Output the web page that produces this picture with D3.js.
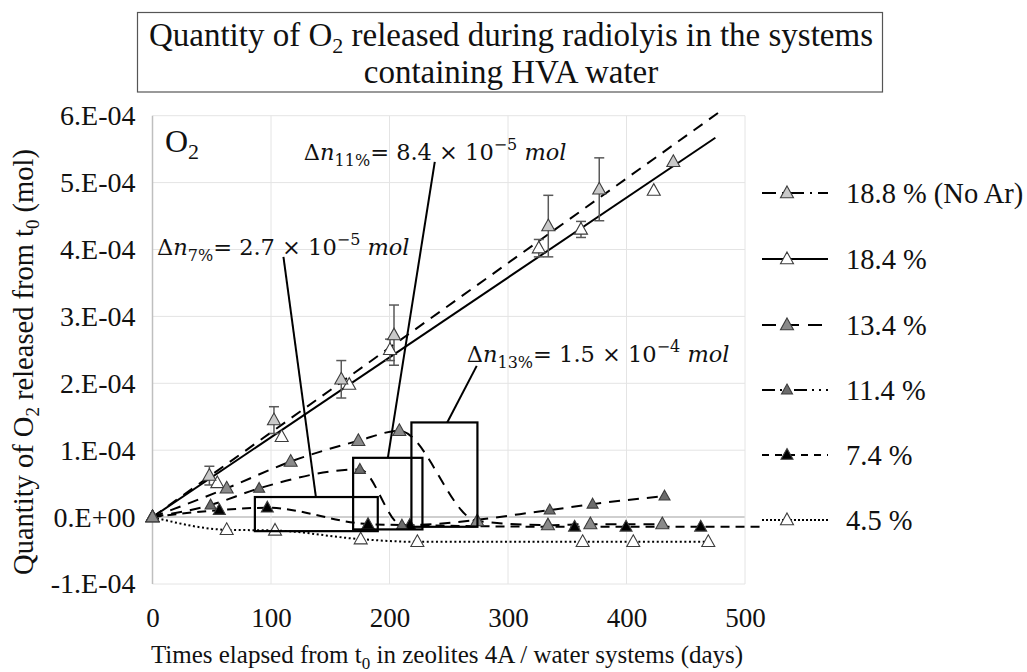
<!DOCTYPE html>
<html>
<head>
<meta charset="utf-8">
<script src="https://cdn.jsdelivr.net/npm/d3@7"></script>
<style>
  body { margin: 0; background: #fff; }
  svg { display: block; }
  text { font-family: "Liberation Serif", "Times New Roman", serif; fill: #111; }
  text.math { font-family: "DejaVu Serif", serif; }
</style>
</head>
<body>
<svg id="chart"></svg>
<script>
// axis ticks
const xTicks = [0, 100, 200, 300, 400, 500];
const yTicks = [-1e-4, 0, 1e-4, 2e-4, 3e-4, 4e-4, 5e-4, 6e-4];
const yTickLabels = ["-1.E-04", "0.E+00", "1.E-04", "2.E-04", "3.E-04", "4.E-04", "5.E-04", "6.E-04"];

// 18.8 % (No Ar)
const days188 = [0, 48, 102.5, 159.3, 203.8, 334, 377, 439.5];
const o2_188 = [0, 0.62e-4, 1.45e-4, 2.06e-4, 2.72e-4, 4.35e-4, 4.9e-4, 5.31e-4];
const err188 = [0, 0.14e-4, 0.2e-4, 0.28e-4, 0.45e-4, 0.46e-4, 0.47e-4, 0];
const trend188 = [[0, 0], [478, 6.05e-4]];

// 18.4 %
const days184 = [0, 54.7, 109, 166, 200.4, 326, 361.6, 423];
const o2_184 = [0, 0.51e-4, 1.2e-4, 1.98e-4, 2.5e-4, 4.02e-4, 4.3e-4, 4.88e-4];
const err184 = [0, 0, 0, 0, 0.16e-4, 0.13e-4, 0.12e-4, 0];
const trend184 = [[0, 0], [475, 5.67e-4]];

// 13.4 %
const days134 = [0, 62.6, 116.6, 173.7, 208.3, 274, 333.7, 369.5, 430.2];
const o2_134 = [0, 0.43e-4, 0.83e-4, 1.14e-4, 1.29e-4, -0.06e-4, -0.12e-4, -0.105e-4, -0.105e-4];

// 11.4 %
const days114 = [0, 49, 90, 175, 210.5, 335.2, 371.4, 432.1];
const o2_114 = [0, 0.18e-4, 0.43e-4, 0.713e-4, -0.12e-4, 0.105e-4, 0.194e-4, 0.314e-4];

// 7.4 % (last point has no marker, the line runs on under the legend)
const days74 = [0, 56.4, 96.9, 181.9, 217.1, 356.2, 399.6, 462.6, 517];
const o2_74 = [0, 0.105e-4, 0.14e-4, -0.105e-4, -0.12e-4, -0.145e-4, -0.145e-4, -0.145e-4, -0.145e-4];

// 4.5 %
const days45 = [0, 62.6, 103.4, 175.7, 223.5, 363, 405.7, 469];
const o2_45 = [0, -0.19e-4, -0.2e-4, -0.33e-4, -0.37e-4, -0.37e-4, -0.37e-4, -0.37e-4];

// callouts: box [x0, x1, yTop, yBottom], leader line, text anchor (all in data units)
const callouts = [
  { sub: "7%", val: "2.7", exp: "−5", box: [86.4, 190.1, 0.30e-4, -0.21e-4], leader: [[110.5, 3.89e-4], [137.9, 0.30e-4]], at: [3.8, 3.92e-4] },
  { sub: "11%", val: "8.4", exp: "−5", box: [169.3, 227.8, 0.886e-4, -0.184e-4], leader: [[238.2, 5.31e-4], [198.6, 0.886e-4]], at: [127.7, 5.34e-4] },
  { sub: "13%", val: "1.5", exp: "−4", box: [218.5, 274.2, 1.415e-4, -0.145e-4], leader: [[273.6, 2.26e-4], [248.7, 1.415e-4]], at: [265.2, 2.32e-4] }
];

const W = 1027, H = 672;
const svg = d3.select('#chart').attr('width', W).attr('height', H);

const x = d3.scaleLinear().domain([0, 500]).range([152.5, 745]);
const y = d3.scaleLinear().domain([-1e-4, 6e-4]).range([584, 115.7]);

// title box
svg.append('rect')
  .attr('x', 137.5).attr('y', 12.5).attr('width', 745).attr('height', 79.5)
  .attr('fill', 'none').attr('stroke', '#555').attr('stroke-width', 1.2);

const t1 = svg.append('text').attr('x', 511).attr('y', 46)
  .attr('text-anchor', 'middle').style('font-size', '33px');
t1.append('tspan').text('Quantity of O');
t1.append('tspan').attr('dy', 7).style('font-size', '22px').text('2');
t1.append('tspan').attr('dy', -7).text(' released during radiolyis in the systems');
svg.append('text').attr('x', 511).attr('y', 83)
  .attr('text-anchor', 'middle').style('font-size', '33px')
  .text('containing HVA water');

// gridlines
svg.append('g').selectAll('line').data(yTicks).enter().append('line')
  .attr('x1', x(0)).attr('x2', x(500))
  .attr('y1', d => y(d)).attr('y2', d => y(d))
  .attr('stroke', d => d === 0 ? '#bfbfbf' : '#e4e4e4').attr('stroke-width', d => d === 0 ? 1.5 : 1);
svg.append('g').selectAll('line').data(xTicks.slice(1)).enter().append('line')
  .attr('x1', d => x(d)).attr('x2', d => x(d))
  .attr('y1', y(-1e-4)).attr('y2', y(6e-4))
  .attr('stroke', '#e4e4e4');
svg.append('line')
  .attr('x1', x(0)).attr('x2', x(0)).attr('y1', y(-1e-4)).attr('y2', y(6e-4))
  .attr('stroke', '#bfbfbf').attr('stroke-width', 1.5);

// axes (labels only)
const yAxis = d3.axisLeft(y).tickValues(yTicks).tickSize(0).tickPadding(17)
  .tickFormat((d, i) => yTickLabels[i]);
const gy = svg.append('g').attr('transform', `translate(${x(0)},0)`).call(yAxis);
gy.select('.domain').remove();
gy.selectAll('text').style('font-family', '"Liberation Serif", serif').style('font-size', '28px').style('fill', '#111');

const xAxis = d3.axisBottom(x).tickValues(xTicks).tickSize(0).tickPadding(24);
const gx = svg.append('g').attr('transform', `translate(0,${y(-1e-4)})`).call(xAxis);
gx.select('.domain').remove();
gx.selectAll('text').style('font-family', '"Liberation Serif", serif').style('font-size', '27px').style('fill', '#111');

// axis titles
const xt = svg.append('text').attr('x', 447).attr('y', 663)
  .attr('text-anchor', 'middle').style('font-size', '25px');
xt.append('tspan').text('Times elapsed from t');
xt.append('tspan').attr('dy', 6).style('font-size', '17px').text('0');
xt.append('tspan').attr('dy', -6).text(' in zeolites 4A / water systems (days)');

const yt = svg.append('text').attr('transform', 'translate(33,362) rotate(-90)')
  .attr('text-anchor', 'middle').style('font-size', '28.5px');
yt.append('tspan').text('Quantity of O');
yt.append('tspan').attr('dy', 6).style('font-size', '19px').text('2');
yt.append('tspan').attr('dy', -6).text(' released from t');
yt.append('tspan').attr('dy', 6).style('font-size', '19px').text('0');
yt.append('tspan').attr('dy', -6).text(' (mol)');

// O2 label in plot
const o2 = svg.append('text').attr('x', 165).attr('y', 152).style('font-size', '32px');
o2.append('tspan').text('O');
o2.append('tspan').attr('dy', 7).style('font-size', '22px').text('2');

// series definitions
const series = [
  { name: '18.8 % (No Ar)', days: days188, vals: o2_188, err: err188, fill: '#c9c9c9', size: 13, line: null, legendDash: '14,6,2,6' },
  { name: '18.4 %', days: days184, vals: o2_184, err: err184, fill: '#ffffff', size: 13, line: null, legendDash: null },
  { name: '13.4 %', days: days134, vals: o2_134, fill: '#8a8a8a', size: 13, line: '11,8', legendDash: '14,9' },
  { name: '11.4 %', days: days114, vals: o2_114, fill: '#6c6c6c', size: 11, line: '11,8', legendDash: '13,5,2,5,2,5' },
  { name: '7.4 %', days: days74, vals: o2_74, fill: '#000000', size: 12, line: '9,6', legendDash: '7,6' },
  { name: '4.5 %', days: days45, vals: o2_45, fill: '#ffffff', size: 13, line: '2,2.6', legendDash: '2,2' }
];

const tri = (cx, cy, s) => {
  const h = s * 0.9;
  return `M${cx},${cy - h * 0.6}L${cx + s / 2},${cy + h * 0.4}L${cx - s / 2},${cy + h * 0.4}Z`;
};

// trendlines
const lineGen = d3.line().x(d => x(d[0])).y(d => y(d[1]));
svg.append('path').attr('d', lineGen(trend188)).attr('fill', 'none')
  .attr('stroke', '#000').attr('stroke-width', 2).attr('stroke-dasharray', '11,8');
svg.append('path').attr('d', lineGen(trend184)).attr('fill', 'none')
  .attr('stroke', '#000').attr('stroke-width', 2);

// smoothed series lines
const smooth = d3.line().x(d => x(d[0])).y(d => y(d[1])).curve(d3.curveMonotoneX);
series.filter(s => s.line).forEach(s => {
  const pts = s.days.map((d, i) => [d, s.vals[i]]);
  svg.append('path').attr('d', smooth(pts)).attr('fill', 'none')
    .attr('stroke', '#000').attr('stroke-width', 2)
    .attr('stroke-dasharray', s.line);
});

// error bars
series.filter(s => s.err).forEach(s => {
  const g = svg.append('g').attr('stroke', '#595959').attr('stroke-width', 1.5);
  s.days.forEach((d, i) => {
    if (!s.err[i]) return;
    const cx = x(d), top = y(s.vals[i] + s.err[i]), bot = y(s.vals[i] - s.err[i]);
    g.append('line').attr('x1', cx).attr('x2', cx).attr('y1', top).attr('y2', bot);
    g.append('line').attr('x1', cx - 5).attr('x2', cx + 5).attr('y1', top).attr('y2', top);
    g.append('line').attr('x1', cx - 5).attr('x2', cx + 5).attr('y1', bot).attr('y2', bot);
  });
});

// markers (4.5 first so the grey ones end on top at the origin)
[5, 4, 1, 0, 3, 2].forEach(k => {
  const s = series[k];
  svg.append('g').selectAll('path')
    .data(s.days.map((d, i) => [d, s.vals[i]]).filter(p => p[0] <= 500))
    .enter().append('path')
    .attr('d', p => tri(x(p[0]), y(p[1]), s.size))
    .attr('fill', s.fill).attr('stroke', '#3c3c3c').attr('stroke-width', 1.1);
});

// callouts
callouts.forEach(c => {
  svg.append('rect')
    .attr('x', x(c.box[0])).attr('y', y(c.box[2]))
    .attr('width', x(c.box[1]) - x(c.box[0])).attr('height', y(c.box[3]) - y(c.box[2]))
    .attr('fill', 'none').attr('stroke', '#000').attr('stroke-width', 2.2);
  svg.append('path').attr('d', lineGen(c.leader))
    .attr('stroke', '#000').attr('stroke-width', 2);
  const t = svg.append('text').attr('class', 'math').attr('x', x(c.at[0])).attr('y', y(c.at[1]))
    .style('font-size', '22.5px');
  t.append('tspan').text('Δ');
  t.append('tspan').style('font-style', 'italic').text('n');
  t.append('tspan').attr('dy', 6).style('font-size', '16px').text(c.sub);
  t.append('tspan').attr('dy', -6).text('= ' + c.val + ' × 10');
  t.append('tspan').attr('dy', -10).style('font-size', '16px').text(c.exp);
  t.append('tspan').attr('dy', 10).text(' ');
  t.append('tspan').style('font-style', 'italic').text('mol');
});

// legend
const legRows = [193, 259, 325, 390, 455, 520];
const leg = svg.append('g');
series.forEach((s, i) => {
  const ly = legRows[i];
  leg.append('line').attr('x1', 762).attr('x2', 828).attr('y1', ly).attr('y2', ly)
    .attr('stroke', '#000').attr('stroke-width', 2)
    .attr('stroke-dasharray', s.legendDash);
  leg.append('path').attr('d', tri(787, ly, s.size))
    .attr('fill', s.fill).attr('stroke', '#3c3c3c').attr('stroke-width', 1.1);
  leg.append('text').attr('x', 846).attr('y', ly + 10)
    .style('font-size', '28.5px').text(s.name);
});
</script>
</body>
</html>
